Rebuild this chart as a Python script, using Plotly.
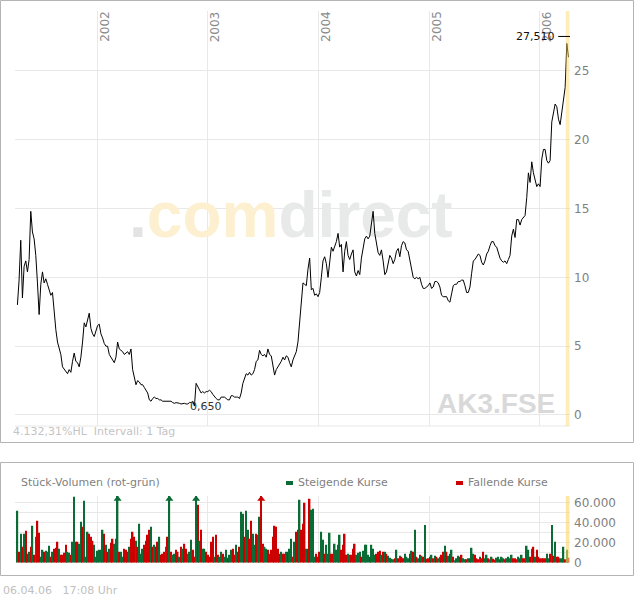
import pandas as pd
import plotly.graph_objects as go

CLOSE = [
    8.0, 9.8, 12.7, 8.5, 10.8, 11.2, 10.4, 11.3, 14.8, 13.3,
    12.8, 11.6, 9.6, 7.3, 9.5, 10.4, 9.6, 9.9, 9.5, 9.0,
    8.7, 8.9, 7.2, 6.2, 5.3, 4.9, 4.4, 3.5, 3.3, 3.2,
    3.0, 3.3, 3.1, 3.9, 4.5, 3.9, 3.8, 3.5, 4.2, 5.3,
    6.7, 6.4, 7.0, 7.4, 6.3, 5.9, 5.7, 6.1, 6.5, 6.6,
    5.9, 5.6, 5.2, 5.0, 5.0, 4.4, 4.2, 3.9, 3.8, 4.2,
    5.3, 4.8, 4.7, 4.6, 4.4, 4.5, 4.6, 4.4, 4.8, 3.3,
    2.7, 2.2, 2.5, 2.4, 2.2, 2.2, 2.0, 1.8, 1.6, 1.1,
    1.0, 1.2, 1.3, 1.2, 1.2, 1.1, 1.1, 1.0, 1.0, 1.0,
    1.0, 0.95, 1.0, 0.9, 0.85, 0.9, 0.9, 0.85, 0.8, 0.85,
    0.85, 0.8, 0.8, 0.9, 0.9, 1.0, 0.65, 2.3, 2.1, 1.8,
    1.6, 1.7, 1.6, 1.7, 1.7, 1.8,
    1.7, 1.5, 1.3, 1.2, 1.1, 1.1, 1.3, 1.3, 1.3, 1.2,
    1.1, 1.1, 1.4, 1.4, 1.3, 1.3, 1.3, 1.2, 1.6, 2.3,
    2.6, 3.0, 2.9, 3.1, 2.9, 3.0, 3.3, 3.9, 4.0, 4.7,
    4.4, 4.3, 4.4, 4.2, 4.8, 4.4, 4.3, 3.6, 2.9, 3.3,
    3.5, 3.6, 3.9, 4.2, 4.0, 4.3, 4.2, 3.8, 3.5, 4.0,
    4.3, 4.6, 5.3, 6.8, 8.0, 9.6, 9.5, 9.4, 10.6, 11.4,
    9.1, 9.2, 8.7, 8.8, 8.6, 8.9, 10.0, 11.2, 11.5, 11.0,
    10.0, 11.3, 12.2, 11.9, 12.2, 12.6, 13.2, 12.2, 12.4, 10.4,
    11.9, 12.6, 11.6, 11.3, 11.7, 12.0, 10.4, 10.1, 10.5, 10.2,
    11.4, 12.1, 12.8, 13.0, 12.8, 13.0, 14.0, 14.8, 13.2, 12.5,
    11.8, 11.6, 12.0, 11.2, 10.2, 10.4, 11.0, 11.6, 11.4, 11.0,
    11.3, 11.9, 12.1, 11.5,
    12.3, 12.6, 12.5, 12.0, 11.9, 11.2, 10.5, 10.0, 9.9, 10.0,
    9.9, 10.0, 9.5, 9.2, 9.2, 9.3, 9.4, 9.6, 9.2, 9.3,
    9.7, 9.7, 9.6, 9.3, 8.7, 8.6, 8.6, 8.6, 8.3, 8.2,
    8.8, 9.4, 9.5, 9.5, 9.7, 9.7, 9.8, 9.8, 9.4, 8.9,
    8.9, 9.3, 10.3, 11.2, 11.3, 11.5, 11.7, 11.6, 11.1, 10.9,
    11.2, 11.7, 11.9, 12.3, 12.6, 12.6, 12.3, 12.2, 11.8, 11.4,
    11.2, 11.1, 11.2, 11.0, 11.3, 11.6, 13.0, 13.5, 12.9, 14.2,
    14.2, 13.8, 14.2, 14.4, 14.5, 15.8, 17.6, 16.9, 18.4, 17.6,
    17.0, 16.6, 16.8, 16.6, 18.6, 19.3, 19.3, 18.5, 18.3, 18.5,
    21.3, 22.0, 22.6, 22.4, 21.5, 21.1, 22.0, 23.2, 23.8, 27.0,
    26.0,
]

# Stueckvolumen je Balken
VOLUME = [
    52000, 11000, 29000, 16000, 29000, 32000, 9000, 11000, 16000, 37000,
    8000, 26000, 42000, 30000, 6000, 13000, 11000, 12000, 11000, 17000,
    6000, 11000, 14000, 15000, 21000, 14000, 8000, 8000, 10000, 18000,
    11000, 10000, 8000, 21000, 66000, 21000, 21000, 19000, 41000, 36000,
    62000, 6000, 31000, 29000, 26000, 22000, 18000, 6000, 12000, 13000,
    13000, 33000, 29000, 18000, 11000, 14000, 20000, 24000, 19000, 24000,
    80000, 11000, 11000, 6000, 14000, 13000, 11000, 16000, 24000, 31000,
    26000, 22000, 16000, 39000, 9000, 14000, 18000, 22000, 28000, 33000,
    36000, 16000, 18000, 16000, 21000, 26000, 8000, 9000, 11000, 16000,
    26000, 80000, 11000, 8000, 9000, 13000, 11000, 6000, 16000, 14000,
    19000, 14000, 9000, 11000, 23000, 13000, 6000, 80000, 58000, 22000,
    33000, 14000, 14000, 11000, 8000, 6000, 21000, 26000, 6000, 28000,
    8000, 6000, 11000, 9000, 6000, 13000, 5000, 8000, 13000, 14000,
    8000, 18000, 11000, 16000, 51000, 49000, 26000, 52000, 33000, 24000,
    42000, 29000, 18000, 29000, 28000, 46000, 80000, 19000, 16000, 14000,
    13000, 9000, 13000, 26000, 37000, 36000, 14000, 9000, 11000, 9000,
    9000, 11000, 11000, 14000, 24000, 6000, 21000,
    31000, 33000, 63000, 33000, 39000, 60000, 14000, 14000, 64000, 53000,
    54000, 6000, 9000, 6000, 11000, 31000, 23000, 9000, 18000, 9000,
    30000, 9000, 9000, 19000, 13000, 18000, 28000, 13000, 18000, 29000,
    8000, 9000, 8000, 8000, 14000, 19000, 8000, 10000, 11000, 6000,
    12000, 18000, 18000, 8000, 6000, 18000, 14000, 8000, 9000, 11000,
    12000, 8000, 11000, 11000, 9000, 7000, 5000, 4000, 3500, 4500,
    13000, 4500, 7000, 6000, 4500, 9000, 6000, 4500, 9000, 12000,
    11000, 33000, 6000, 4500, 8000, 7000, 6000, 37600, 4000, 4500,
    6000, 8000, 4500, 7000, 6000, 4500, 6000, 8000, 11000, 17000,
    11000, 7000, 9000, 13000, 6000, 2500, 4500, 7000, 6000, 8000,
    4500, 3500, 3500, 4500, 4500, 15000, 9000, 8000, 4500, 3500,
    6000, 4500, 11000, 4500, 8000, 4500, 3500, 6000, 4000, 3000,
    5000, 6000, 3500, 6000, 4500, 3500, 4500, 6000, 4500, 8000,
    4500, 4500, 3500, 6000, 4500, 8000, 4500, 4500, 17000, 13000,
    6000, 14000, 16000, 6000, 13000, 6000, 4500, 4500, 4500, 4500,
    9000, 4500, 9000, 37600, 7000, 21000, 6000, 6000, 4500, 4500,
    16000, 3500, 13000, 5000,
]

# g = steigender Kurs, r = fallender Kurs
DIRECTION = (
    "grgrgrrgrg" "rgrrggrggg" "rgrrrgrrrr" "ggrggrrggr" "gggrrrgggg"
    "ggrgrgrrgg" "grggrrrgrr" "rgrgggrrrr" "grgrrgrrrg" "rgrggrrgrg"
    "rrgggrrgrg" "rggrrrrrgr" "rggrggrggr" "rgrrggrggr" "rggrggrrgg"
    "rrrrrrrrgr" "rgrggrg"
    "rrgrrrgrrg" "ggrrrggrgg" "grrggggrrr" "rggrrrgggr" "ggggrgggrr"
    "rgrgrggggr" "grgrrgggrg" "rgrgrgrgrr" "rgrgrggrrg" "rgrgrgggrr"
    "ggrgrggrrr" "grrggrggrr" "ggrggrgggg" "rrrgrgrrgg" "rgrgrrrgrr"
    "ggrgrgrrgg" "grgr"
)

YEARS = [2002, 2003, 2004, 2005, 2006]
HIGH = 27.51
START, END = "2001-04-12", "2006-04-06"
X_RANGE = ["2001-04-04", "2006-04-11"]
Y_RANGE = [-0.8, 29.36]
VOL_RANGE = [0, 66700]

W, H = 634, 597
GREEN = "#0b6b35"
RED = "#cc0000"
GRID = "#e8e8e8"
FRAME = "#b4b4b4"
FONT = "DejaVu Sans"


def px(x):
    return x / W


def py(y):
    return 1 - y / H


dates = pd.date_range(START, END, periods=len(CLOSE))
colors = [GREEN if d == "g" else RED for d in DIRECTION]
low_i = CLOSE.index(min(CLOSE))

fig = go.Figure()

# comdirect watermark, drawn first so the price line lies on top of it
x0, x1 = pd.Timestamp(X_RANGE[0]), pd.Timestamp(X_RANGE[1])
fig.add_trace(go.Scatter(
    x=[x0 + (x1 - x0) * 0.497],
    y=[Y_RANGE[0] + (Y_RANGE[1] - Y_RANGE[0]) * 0.495],
    mode="text",
    text=["<b><span style='color:#e3e3e3'>.</span>"
          "<span style='color:#fdf0d0'>com</span>"
          "<span style='color:#e8e9e9'>direct</span></b>"],
    textfont=dict(family="Liberation Sans", size=64, color="#e8e9e9"),
    hoverinfo="skip",
))

fig.add_trace(go.Scatter(
    x=dates, y=CLOSE, mode="lines",
    line=dict(color="black", width=1),
    hoverinfo="x+y",
))

fig.add_trace(go.Bar(
    x=dates, y=VOLUME, marker=dict(color=colors, line_width=0),
    xaxis="x2", yaxis="y2",
))

# volumes beyond the scale get an arrow head
over = [i for i, v in enumerate(VOLUME) if v > VOL_RANGE[1]]
fig.add_trace(go.Scatter(
    x=[dates[i] for i in over],
    y=[VOL_RANGE[1] * 0.955] * len(over),
    mode="markers",
    marker=dict(symbol="triangle-up", size=7, color=[colors[i] for i in over]),
    xaxis="x2", yaxis="y2", hoverinfo="skip",
))

annotations = []
for yr in YEARS:
    annotations.append(dict(
        x=f"{yr}-01-01", y=1, xref="x", yref="y domain",
        text=str(yr), textangle=-90, showarrow=False,
        xanchor="left", yanchor="top", xshift=-2, yshift=2,
        font=dict(family=FONT, size=12, color="#8a8a8a"),
    ))

last = dates[-1]
mark_x0 = last - pd.Timedelta(days=34)
annotations += [
    dict(x=mark_x0, y=HIGH, xref="x", yref="y", text=f"{HIGH:.3f}".replace(".", ","),
         showarrow=False, xanchor="right", yanchor="middle", xshift=-1,
         font=dict(family=FONT, size=11, color="#111111")),
    dict(x=dates[low_i], y=CLOSE[low_i], xref="x", yref="y",
         text=f"{CLOSE[low_i]:.3f}".replace(".", ","),
         showarrow=False, xanchor="left", yanchor="middle", xshift=-6, yshift=0,
         font=dict(family=FONT, size=11, color="#333333")),
    dict(x=px(557), y=py(421), xref="paper", yref="paper", text="<b>AK3.FSE</b>",
         showarrow=False, xanchor="right", yanchor="bottom",
         font=dict(family="Liberation Sans", size=28, color="#d9d9d9")),
    dict(x=px(11), y=py(431), xref="paper", yref="paper",
         text="4.132,31%HL  Intervall: 1 Tag", showarrow=False,
         xanchor="left", yanchor="middle",
         font=dict(family=FONT, size=11, color="#c4c4c4")),
    dict(x=px(19), y=py(482), xref="paper", yref="paper",
         text="Stück-Volumen (rot-grün)", showarrow=False,
         xanchor="left", yanchor="middle",
         font=dict(family=FONT, size=11, color="#7f7f7f")),
    dict(x=px(296), y=py(482), xref="paper", yref="paper",
         text="Steigende Kurse", showarrow=False,
         xanchor="left", yanchor="middle",
         font=dict(family=FONT, size=11, color="#7f7f7f")),
    dict(x=px(466), y=py(482), xref="paper", yref="paper",
         text="Fallende Kurse", showarrow=False,
         xanchor="left", yanchor="middle",
         font=dict(family=FONT, size=11, color="#7f7f7f")),
    dict(x=px(1), y=py(590), xref="paper", yref="paper",
         text="06.04.06   17:08 Uhr", showarrow=False,
         xanchor="left", yanchor="middle",
         font=dict(family=FONT, size=11, color="#c0c0c0")),
]

shapes = [
    # panel frames
    dict(type="rect", xref="paper", yref="paper", x0=px(0.5), x1=px(633.5),
         y0=py(442.5), y1=py(0.5), line=dict(color=FRAME, width=1)),
    dict(type="rect", xref="paper", yref="paper", x0=px(0.5), x1=px(633.5),
         y0=py(575.5), y1=py(462.5), line=dict(color=FRAME, width=1)),
    # bottom edge of the price plot
    dict(type="line", xref="x domain", yref="y domain", x0=0, x1=1, y0=0, y1=0,
         line=dict(color=GRID, width=1)),
    # current-week band
    dict(type="rect", xref="x", yref="y domain", x0="2006-03-28", x1="2006-04-09",
         y0=0, y1=1, fillcolor="rgba(252,214,100,0.45)", line_width=0, layer="above"),
    dict(type="rect", xref="x2", yref="y2 domain", x0="2006-03-28", x1="2006-04-09",
         y0=0, y1=1, fillcolor="rgba(252,214,100,0.6)", line_width=0, layer="above"),
    # high marker
    dict(type="line", xref="x", yref="y", x0=mark_x0, x1=last + pd.Timedelta(days=9),
         y0=HIGH, y1=HIGH, line=dict(color="black", width=1)),
    # legend swatches
    dict(type="rect", xref="paper", yref="paper", x0=px(286), x1=px(293),
         y0=py(485), y1=py(481), fillcolor=GREEN, line_width=0),
    dict(type="rect", xref="paper", yref="paper", x0=px(456), x1=px(463),
         y0=py(485), y1=py(481), fillcolor=RED, line_width=0),
]

x_common = dict(
    type="date", range=X_RANGE, domain=[px(15), px(570)],
    showgrid=True, gridcolor=GRID, gridwidth=1,
    tick0="2002-01-01", dtick="M12", showticklabels=False,
    ticks="", zeroline=False, showline=False, automargin=False,
)

fig.update_layout(
    width=W, height=H, autosize=False,
    margin=dict(l=0, r=0, t=0, b=0, pad=0, autoexpand=False),
    paper_bgcolor="white", plot_bgcolor="white",
    showlegend=False, separators=",.",
    font=dict(family=FONT, size=12, color="#7f7f7f"),
    bargap=0.1,
    xaxis=dict(anchor="y", **x_common),
    yaxis=dict(
        domain=[py(426), py(11)], range=Y_RANGE, side="right", anchor="x",
        tick0=0, dtick=5, showgrid=True, gridcolor=GRID, zeroline=False,
        ticks="", ticklabelstandoff=3, automargin=False,
        tickfont=dict(family=FONT, size=12, color="#7f7f7f"),
    ),
    xaxis2=dict(anchor="y2", matches="x", **x_common),
    yaxis2=dict(
        domain=[py(562.7), py(496)], range=VOL_RANGE, side="right", anchor="x2",
        tick0=0, dtick=20000, tickformat=",d", showgrid=True, gridcolor=GRID,
        minor=dict(dtick=10000, showgrid=True, gridcolor=GRID),
        zeroline=False, ticks="", ticklabelstandoff=3, automargin=False,
        tickfont=dict(family=FONT, size=12, color="#7f7f7f"),
    ),
    annotations=annotations,
    shapes=shapes,
)

page_fix = (
    "document.documentElement.style.overflow='hidden';"
    "document.body.style.margin='0';"
    "document.body.style.overflow='hidden';"
)
fig.write_html("out.html", config={"displayModeBar": False}, post_script=page_fix)
